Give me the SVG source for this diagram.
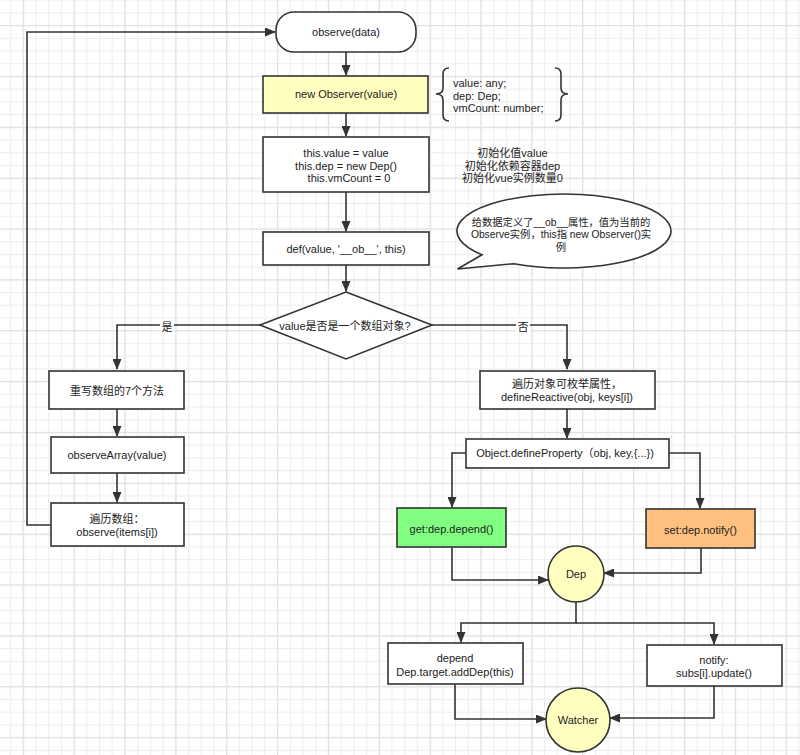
<svg xmlns="http://www.w3.org/2000/svg" width="800" height="755" viewBox="0 0 800 755">
<defs>
<pattern id="minor" x="22.7" y="25" width="12.715" height="12.715" patternUnits="userSpaceOnUse">
<rect x="0" y="0" width="12.715" height="1.2" fill="#efefef"/>
<rect x="0" y="0" width="1.2" height="12.715" fill="#efefef"/>
</pattern>
<pattern id="major" x="22.7" y="25" width="50.86" height="50.86" patternUnits="userSpaceOnUse">
<rect x="0" y="0" width="50.86" height="1.2" fill="#e2e2e2"/>
<rect x="0" y="0" width="1.2" height="50.86" fill="#e2e2e2"/>
</pattern>
<marker id="arr" markerWidth="11" markerHeight="9" refX="10" refY="4.5" orient="auto" markerUnits="userSpaceOnUse">
<path d="M0,0 L11,4.5 L0,9 z" fill="#333"/>
</marker>
<style>
.box{fill:#fff;stroke:#333;stroke-width:1.6}
.yel{fill:#ffffc0}
.grn{fill:#80ff80}
.org{fill:#ffc080}
.t{font-family:"Liberation Sans","Noto Sans CJK SC",sans-serif;font-size:11px;fill:#222;text-anchor:middle}
.s{font-size:10.3px}
.l{text-anchor:start}
.c{fill:none;stroke:#333;stroke-width:1.6;marker-end:url(#arr)}
.cn{fill:none;stroke:#333;stroke-width:1.6}
.lbl{fill:#fff}
</style>
</defs>
<rect width="800" height="755" fill="#fff"/>
<rect width="800" height="755" fill="url(#minor)"/>
<rect width="800" height="755" fill="url(#major)"/>

<g id="connectors">
<path class="c" d="M346,52 V75"/>
<path class="c" d="M346,113 V136"/>
<path class="c" d="M346,192 V231"/>
<path class="c" d="M346,265 V291"/>
<path class="c" d="M260,325 H117 V369"/>
<path class="c" d="M432,325 H567 V369"/>
<path class="c" d="M117,409 V436"/>
<path class="c" d="M117,473 V502"/>
<path class="c" d="M51,525 H27 V32 H275"/>
<path class="c" d="M567,409 V438"/>
<path class="c" d="M466,453 H452 V507"/>
<path class="c" d="M669,453 H700 V508"/>
<path class="c" d="M452,547 V580 H548"/>
<path class="c" d="M701,548 V573 H604"/>
<path class="c" d="M576,602 V623 H461 V642"/>
<path class="c" d="M576,623 H714 V644"/>
<path class="c" d="M455,684 V719 H546"/>
<path class="c" d="M714,686 V718 H610"/>
<rect class="lbl" x="160" y="319" width="14" height="14"/>
<text class="t" x="167" y="331">是</text>
<rect class="lbl" x="516" y="319" width="14" height="14"/>
<text class="t" x="523" y="331">否</text>
</g>

<g id="observe-data">
<rect class="box" x="276" y="12" width="140" height="40" rx="18"/>
<text class="t" x="346" y="36">observe(data)</text>
</g>

<g id="new-observer">
<rect class="box yel" x="263" y="76" width="165" height="37"/>
<text class="t" x="346" y="98">new Observer(value)</text>
</g>

<g id="observer-fields">
<path class="cn" d="M449,68 Q443,68 443,74 L443,88 Q443,94 436,94 Q443,94 443,100 L443,115 Q443,121 449,121"/>
<path class="cn" d="M555,68 Q561,68 561,74 L561,88 Q561,94 568,94 Q561,94 561,100 L561,115 Q561,121 555,121"/>
<text class="t l" x="453" y="87">value: any;</text>
<text class="t l" x="453" y="99.5">dep: Dep;</text>
<text class="t l" x="453" y="112">vmCount: number;</text>
</g>

<g id="init">
<rect class="box" x="263" y="137" width="166" height="55"/>
<text class="t" x="346" y="157">this.value = value</text>
<text class="t" x="346" y="169.5">this.dep = new Dep()</text>
<text class="t" x="349" y="182">this.vmCount = 0</text>
</g>

<g id="init-note">
<text class="t" x="512.5" y="157">初始化值value</text>
<text class="t" x="512.5" y="169.5">初始化依赖容器dep</text>
<text class="t" x="512.5" y="182">初始化vue实例数量0</text>
</g>

<g id="def">
<rect class="box" x="263" y="232" width="166" height="33"/>
<text class="t" x="346" y="253">def(value, '__ob__', this)</text>
</g>

<g id="bubble">
<path class="box" d="M482,254.8 L457.5,269 L513.8,263.7 A107,37 0 1 0 482,254.8 Z"/>
<text class="t s" x="561" y="225.5">给数据定义了__ob__属性，值为当前的</text>
<text class="t s" x="561" y="238">Observe实例，this指 new Observer()实</text>
<text class="t s" x="561" y="251">例</text>
</g>

<g id="is-array">
<path class="box" d="M346,292 L432,325 L346,359 L260,325 Z"/>
<text class="t" x="345" y="330">value是否是一个数组对象?</text>
</g>

<g id="rewrite-methods">
<rect class="box" x="49" y="371" width="135" height="38"/>
<text class="t" x="117" y="395">重写数组的7个方法</text>
</g>

<g id="observe-array">
<rect class="box" x="51" y="437" width="133" height="36"/>
<text class="t" x="117" y="459">observeArray(value)</text>
</g>

<g id="walk-array">
<rect class="box" x="51" y="503" width="133" height="43"/>
<text class="t" x="117" y="523">遍历数组：</text>
<text class="t" x="117" y="536">observe(items[i])</text>
</g>

<g id="walk-object">
<rect class="box" x="480" y="371" width="175" height="38"/>
<text class="t" x="567" y="388">遍历对象可枚举属性，</text>
<text class="t" x="567" y="401">defineReactive(obj, keys[i])</text>
</g>

<g id="define-property">
<rect class="box" x="466" y="439" width="203" height="29"/>
<text class="t" x="565" y="457">Object.defineProperty（obj, key,{...})</text>
</g>

<g id="getter">
<rect class="box grn" x="397" y="508" width="109" height="39"/>
<text class="t" x="451.5" y="533">get:dep.depend()</text>
</g>

<g id="setter">
<rect class="box org" x="646" y="509" width="109" height="39"/>
<text class="t" x="700.5" y="534">set:dep.notify()</text>
</g>

<g id="dep">
<circle class="box yel" cx="576" cy="574" r="28"/>
<text class="t" x="576" y="578">Dep</text>
</g>

<g id="depend">
<rect class="box" x="388" y="643" width="135" height="41"/>
<text class="t" x="455" y="662">depend</text>
<text class="t" x="455" y="675.5">Dep.target.addDep(this)</text>
</g>

<g id="notify">
<rect class="box" x="647" y="645" width="135" height="41"/>
<text class="t" x="714" y="664">notify:</text>
<text class="t" x="714" y="677">subs[i].update()</text>
</g>

<g id="watcher">
<circle class="box yel" cx="578" cy="720" r="32"/>
<text class="t" x="578" y="724">Watcher</text>
</g>
</svg>
